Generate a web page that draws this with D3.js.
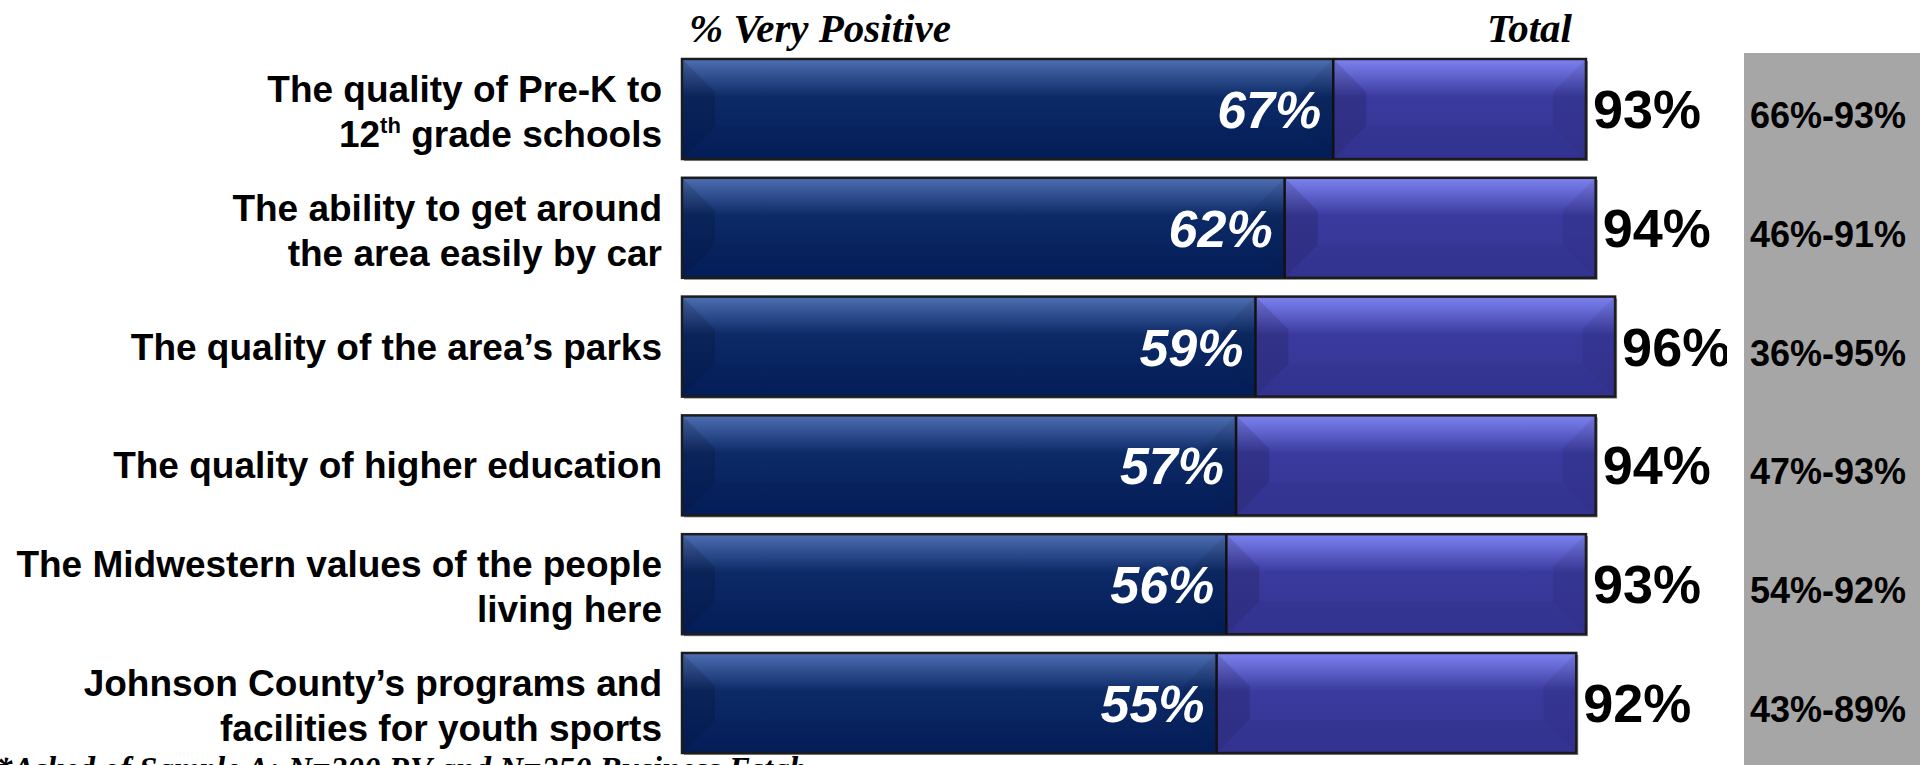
<!DOCTYPE html>
<html>
<head>
<meta charset="utf-8">
<script src="https://cdn.jsdelivr.net/npm/d3@7"></script>
<style>
  html, body { margin: 0; padding: 0; background: #ffffff; }
  svg { display: block; }
</style>
</head>
<body>
<svg id="chart" width="1920" height="765"></svg>
<script>
// ---- data ----
const categories = ["prek", "car", "parks", "higher", "values", "sports"];
const labelLines = [
  [["The quality of Pre-K to"], ["12", "th", " grade schools"]],
  [["The ability to get around"], ["the area easily by car"]],
  [["The quality of the area\u2019s parks"]],
  [["The quality of higher education"]],
  [["The Midwestern values of the people"], ["living here"]],
  [["Johnson County\u2019s programs and"], ["facilities for youth sports"]]
];
const veryPositive = [67, 62, 59, 57, 56, 55];
const totalPositive = [93, 94, 96, 94, 93, 92];
const rangeLabels = ["66%-93%", "46%-91%", "36%-95%", "47%-93%", "54%-92%", "43%-89%"];
const headerLeft = "% Very Positive";
const headerRight = "Total";
const footnote = "*Asked of Sample A: N=300 RV and N=250 Business Estab.";

// ---- setup ----
const svg = d3.select("#chart");
const sans = "'Liberation Sans', Arial, Helvetica, sans-serif";
const serif = "'Liberation Serif', 'Times New Roman', serif";

const x = d3.scaleLinear().domain([0, 100]).range([682, 1654]);
const y = d3.scaleBand().domain(categories).range([59, 753]).paddingInner(0.158).paddingOuter(0);
const bw = y.bandwidth();

const defs = svg.append("defs");
function grad(id, top, mid, base, bottom) {
  const g = defs.append("linearGradient").attr("id", id)
    .attr("x1", 0).attr("y1", 0).attr("x2", 0).attr("y2", 1);
  g.append("stop").attr("offset", "0%").attr("stop-color", top);
  g.append("stop").attr("offset", "10%").attr("stop-color", mid);
  g.append("stop").attr("offset", "38%").attr("stop-color", base);
  g.append("stop").attr("offset", "100%").attr("stop-color", bottom);
}
grad("gNavy", "#4d6fb3", "#3d5c9e", "#0c2a66", "#041f5c");
grad("gPurple", "#7d82ee", "#6c70dc", "#3a3a9e", "#353596");

defs.append("clipPath").attr("id", "valClip")
  .append("rect").attr("x", 0).attr("y", 0).attr("width", 1727).attr("height", 765);

// gray column
svg.append("rect").attr("x", 1744).attr("y", 53).attr("width", 176).attr("height", 712).attr("fill", "#a6a6a6");

// headers
svg.append("text").attr("x", 689).attr("y", 42)
  .attr("font-family", serif).attr("font-weight", "bold").attr("font-style", "italic")
  .attr("font-size", 41).attr("fill", "#000").text(headerLeft);
svg.append("text").attr("x", 1572).attr("y", 42).attr("text-anchor", "end")
  .attr("font-family", serif).attr("font-weight", "bold").attr("font-style", "italic")
  .attr("font-size", 41).attr("fill", "#000").text(headerRight);

// bevelled segment
function segment(g, x0, x1, y0, h, fillId) {
  const w = x1 - x0;
  const d = Math.min(33, w / 2, h / 2.5);
  g.append("rect").attr("x", x0).attr("y", y0).attr("width", w).attr("height", h)
    .attr("fill", `url(#${fillId})`);
  g.append("polygon")
    .attr("points", [[x0, y0], [x0 + d, y0 + d], [x0 + d, y0 + h - d], [x0, y0 + h]].map(p => p.join(",")).join(" "))
    .attr("fill", "#000").attr("opacity", 0.13);
  g.append("polygon")
    .attr("points", [[x1, y0], [x1 - d, y0 + d], [x1 - d, y0 + h - d], [x1, y0 + h]].map(p => p.join(",")).join(" "))
    .attr("fill", "#000").attr("opacity", 0.07);
  g.append("polygon")
    .attr("points", [[x0, y0 + h], [x0 + d, y0 + h - d], [x1 - d, y0 + h - d], [x1, y0 + h]].map(p => p.join(",")).join(" "))
    .attr("fill", "#000").attr("opacity", 0.04);
}

const rows = categories.map((c, i) => ({ c, i, vp: veryPositive[i], tot: totalPositive[i], range: rangeLabels[i], lines: labelLines[i] }));

const rowG = svg.selectAll("g.row").data(rows).join("g").attr("class", "row");

rowG.each(function (d) {
  const g = d3.select(this);
  const y0 = y(d.c);
  const cy = y0 + bw / 2;
  g.append("rect").attr("x", x(0) + 2).attr("y", y0 + 2).attr("width", x(d.tot) - x(0)).attr("height", bw)
    .attr("fill", "#8c8c8c");
  segment(g, x(0), x(d.vp), y0, bw, "gNavy");
  segment(g, x(d.vp), x(d.tot), y0, bw, "gPurple");
  g.append("rect").attr("x", x(0)).attr("y", y0).attr("width", x(d.tot) - x(0)).attr("height", bw)
    .attr("fill", "none").attr("stroke", "#1c1c1c").attr("stroke-width", 2.5);
  g.append("line").attr("x1", x(d.vp)).attr("x2", x(d.vp)).attr("y1", y0).attr("y2", y0 + bw)
    .attr("stroke", "#111").attr("stroke-width", 2.5);

  g.append("text").attr("x", x(d.vp) - 12).attr("y", cy + 19).attr("text-anchor", "end")
    .attr("font-family", sans).attr("font-weight", "bold").attr("font-style", "italic")
    .attr("font-size", 52).attr("fill", "#fff").text(d.vp + "%");

  g.append("text").attr("x", x(d.tot) + 7).attr("y", cy + 19)
    .attr("clip-path", "url(#valClip)")
    .attr("font-family", sans).attr("font-weight", "bold")
    .attr("font-size", 54).attr("fill", "#000").text(d.tot + "%");

  g.append("text").attr("x", 1750).attr("y", cy + 19)
    .attr("font-family", sans).attr("font-weight", "bold")
    .attr("font-size", 36).attr("fill", "#000").text(d.range);

  const t = g.append("text").attr("text-anchor", "end")
    .attr("font-family", sans).attr("font-weight", "bold").attr("font-size", 37).attr("fill", "#000");
  if (d.lines.length === 1) {
    t.append("tspan").attr("x", 662).attr("y", cy + 13).text(d.lines[0][0]);
  } else {
    d.lines.forEach((parts, li) => {
      const ty = cy - 7 + li * 45;
      if (parts.length === 1) {
        t.append("tspan").attr("x", 662).attr("y", ty).text(parts[0]);
      } else {
        t.append("tspan").attr("x", 662).attr("y", ty).text(parts[0]);
        t.append("tspan").attr("dy", -14).attr("font-size", 22).text(parts[1]);
        t.append("tspan").attr("dy", 14).text(parts[2]);
      }
    });
  }
});

// footnote (partially below the visible area, as in the reference)
svg.append("text").attr("x", -4).attr("y", 780)
  .attr("font-family", serif).attr("font-weight", "bold").attr("font-style", "italic")
  .attr("font-size", 33).attr("fill", "#000").text(footnote);
</script>
</body>
</html>
